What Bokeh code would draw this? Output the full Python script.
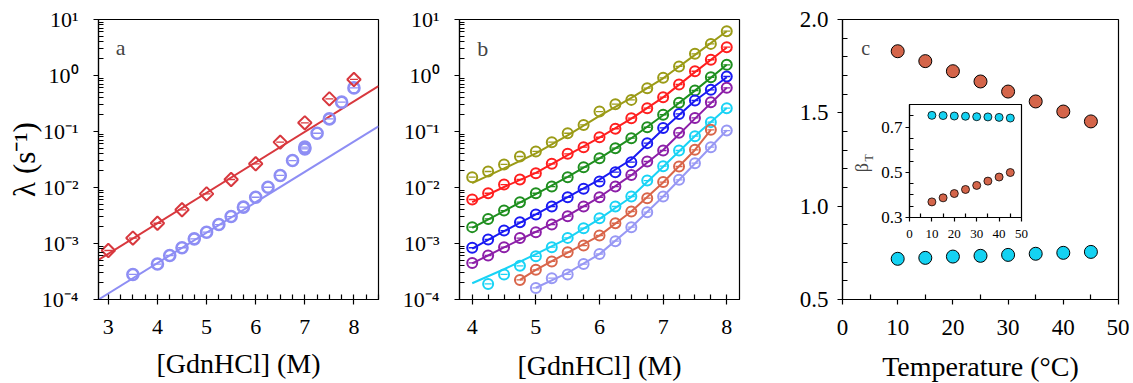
from bokeh.plotting import figure
from bokeh.layouts import row
from bokeh.models import (Range1d, FixedTicker, CustomJSTickFormatter, Label, LinearAxis,
                          SingleIntervalTicker, PrintfTickFormatter)
from bokeh.embed import file_html
from bokeh.resources import INLINE

FONT = "Liberation Serif"

# ---------------- Panel a data ----------------
a_red_x = [3.0, 3.5, 4.0, 4.5, 5.0, 5.5, 6.0, 6.5, 7.0, 7.5, 8.0]
a_red_y = [7.5e-4, 1.25e-3, 2.3e-3, 4.0e-3, 7.7e-3, 1.39e-2, 2.65e-2, 6.45e-2, 0.143, 0.383, 0.85]
a_blue_x = [3.5, 4.0, 4.25, 4.5, 4.75, 5.0, 5.25, 5.5, 5.75, 6.0, 6.25, 6.5, 6.75, 7.0, 7.0,
            7.25, 7.5, 7.75, 8.0]
a_blue_y = [2.8e-4, 4.3e-4, 6.1e-4, 8.4e-4, 1.21e-3, 1.59e-3, 2.18e-3, 3.03e-3, 4.46e-3, 6.7e-3,
            1.01e-2, 1.64e-2, 3.03e-2, 4.9e-2, 5.25e-2, 9.3e-2, 0.168, 0.334, 0.6]
a_fit_x = [2.8, 8.5]
a_fit_red = [5.1e-4, 0.645]
a_fit_blue = [1.0e-4, 0.124]

# ---------------- Panel b data ----------------
b_x = [4.0, 4.25, 4.5, 4.75, 5.0, 5.25, 5.5, 5.75, 6.0, 6.25, 6.5, 6.75, 7.0, 7.25, 7.5, 7.75, 8.0]
b_olive = [0.0153, 0.0193, 0.0258, 0.0358, 0.044, 0.0645, 0.093, 0.131, 0.227, 0.308, 0.367,
           0.594, 0.908, 1.45, 2.44, 3.67, 6.19]
b_red = [0.0061, 0.0079, 0.0113, 0.0139, 0.018, 0.0265, 0.040, 0.0525, 0.079, 0.112, 0.173,
         0.261, 0.41, 0.69, 1.19, 1.91, 3.21]
b_green = [0.00196, 0.00275, 0.00388, 0.00547, 0.0079, 0.0104, 0.0153, 0.0231, 0.0334, 0.0504,
           0.076, 0.119, 0.199, 0.325, 0.54, 0.93, 1.55]
b_blue = [0.00084, 0.00118, 0.0017, 0.0024, 0.0033, 0.00458, 0.0067, 0.00946, 0.0128, 0.0188,
          0.0283, 0.062, 0.116, 0.206, 0.358, 0.555, 0.96]
b_purple = [0.00045, 0.00061, 0.00086, 0.00125, 0.00159, 0.00218, 0.00308, 0.00458, 0.0067,
            0.0104, 0.0168, 0.0291, 0.0458, 0.0946, 0.175, 0.334, 0.603]
b_cyan_x = [4.25, 4.5, 4.75, 5.0, 5.25, 5.5, 5.75, 6.0, 6.25, 6.5, 6.75, 7.0, 7.25, 7.5, 7.75, 8.0]
b_cyan = [1.9e-4, 2.8e-4, 4.0e-4, 5.9e-4, 8.6e-4, 1.26e-3, 1.88e-3, 2.83e-3, 4.58e-3, 6.9e-3,
          1.33e-2, 2.4e-2, 4.58e-2, 8.26e-2, 0.147, 0.261]
b_coral_x = [4.75, 5.0, 5.25, 5.5, 5.75, 6.0, 6.25, 6.5, 6.75, 7.0, 7.25, 7.5, 7.75]
b_coral = [2.24e-4, 3.39e-4, 4.78e-4, 7.0e-4, 9.2e-4, 1.39e-3, 2.3e-3, 3.73e-3, 6.45e-3,
           1.25e-2, 2.37e-2, 4.71e-2, 0.107]
b_lav_x = [5.0, 5.25, 5.5, 5.75, 6.0, 6.25, 6.5, 6.75, 7.0, 7.25, 7.5, 7.75, 8.0]
b_lav = [1.61e-4, 2.4e-4, 2.8e-4, 4.3e-4, 6.5e-4, 1.1e-3, 1.96e-3, 3.63e-3, 6.9e-3, 1.37e-2,
         2.72e-2, 5.25e-2, 0.104]

# fitted curves
b_fit_x = [4.0, 4.5, 5.0, 5.5, 6.0, 6.5, 7.0, 7.5, 8.0]
b_olive_fit = [0.012, 0.0219, 0.0407, 0.0851, 0.19, 0.398, 0.891, 2.34, 6.17]
b_red_fit = [0.0055, 0.0102, 0.0182, 0.038, 0.0776, 0.17, 0.407, 1.15, 3.16]
b_green_fit = [0.0019, 0.0038, 0.00759, 0.0155, 0.0331, 0.0759, 0.195, 0.537, 1.55]
b_blue_fit = [8.1e-4, 1.66e-3, 3.3e-3, 6.76e-3, 0.0138, 0.0316, 0.11, 0.355, 0.93]
b_purple_fit = [4.4e-4, 8.5e-4, 1.62e-3, 3.16e-3, 6.76e-3, 0.0166, 0.0468, 0.17, 0.603]
b_cyan_fit = [1.95e-4, 3.47e-4, 6.46e-4, 1.23e-3, 2.75e-3, 6.76e-3, 0.0234, 0.0832, 0.263]
b_coral_fit_x = [4.75, 5.0, 5.5, 6.0, 6.5, 7.0, 7.5, 7.75]
b_coral_fit = [2.24e-4, 3.39e-4, 6.9e-4, 1.38e-3, 3.72e-3, 0.0123, 0.0468, 0.107]
b_lav_fit_x = [5.0, 5.5, 6.0, 6.5, 7.0, 7.5, 8.0]
b_lav_fit = [1.62e-4, 3.0e-4, 6.46e-4, 1.95e-3, 6.9e-3, 0.0269, 0.105]

# ---------------- Panel c data ----------------
c_temp = [10, 15, 20, 25, 30, 35, 40, 45]
c_m_orange = [1.830, 1.777, 1.723, 1.668, 1.614, 1.561, 1.507, 1.454]
c_m_cyan = [0.718, 0.723, 0.730, 0.734, 0.739, 0.745, 0.750, 0.755]
c_beta_cyan = [0.752, 0.751, 0.749, 0.748, 0.746, 0.745, 0.743, 0.740]
c_beta_orange = [0.369, 0.387, 0.406, 0.424, 0.442, 0.461, 0.479, 0.499]

log_major = [1e-4, 1e-3, 1e-2, 1e-1, 1e0, 1e1]
log_minor = [m * t for t in log_major[:-1] for m in range(2, 10)]

SUP = CustomJSTickFormatter(code="""
const e = Math.round(Math.log10(tick));
const s = {"-": "\u207b", "0": "\u2070", "1": "\u00b9", "2": "\u00b2", "3": "\u00b3",
           "4": "\u2074", "5": "\u2075", "6": "\u2076", "7": "\u2077", "8": "\u2078", "9": "\u2079"};
return "10" + String(e).split("").map(c => s[c]).join("");
""")

FRAME = 280
FRAME_C = 276
TOP = 19
BOTTOM = 40


def style_axis(ax, fs="22px", lfs="28px", tick=5):
    ax.axis_line_color = "black"
    ax.axis_line_width = 1.2
    ax.major_tick_out = tick
    ax.major_tick_in = 0
    ax.minor_tick_in = tick
    ax.minor_tick_out = 0
    ax.major_tick_line_color = "black"
    ax.minor_tick_line_color = "black"
    ax.major_tick_line_width = 1.2
    ax.minor_tick_line_width = 1.2
    ax.major_label_text_font = FONT
    ax.major_label_text_font_size = fs
    ax.major_label_text_color = "black"
    ax.axis_label_text_font = FONT
    ax.axis_label_text_font_style = "normal"
    ax.axis_label_text_font_size = lfs
    ax.axis_label_text_color = "black"


def base_fig(xr, yr, left, right, fw=FRAME, log=False):
    p = figure(frame_width=fw, frame_height=FRAME, x_range=xr, y_range=yr,
               y_axis_type="log" if log else "linear",
               output_backend="svg", toolbar_location=None,
               min_border_left=left, min_border_right=right,
               min_border_top=TOP, min_border_bottom=BOTTOM)
    p.grid.visible = False
    p.outline_line_color = "black"
    p.outline_line_width = 1.2
    p.background_fill_color = "white"
    p.border_fill_color = "white"
    return p


def open_marks(p, x, y, color, size=10, lw=2.0, dash=7):
    p.scatter(x, y, marker="circle", size=size, fill_color=None, line_color=color, line_width=lw)
    p.scatter(x, y, marker="dash", size=dash, line_color=color, line_width=1.3)


# ================= Panel a =================
pa = base_fig(Range1d(2.8, 8.5), Range1d(1e-4, 10), 98, 19, log=True)
RED_A = "#d8383e"
LAV_A = "#8e8ef4"
pa.line(a_fit_x, a_fit_red, line_color=RED_A, line_width=2)
pa.line(a_fit_x, a_fit_blue, line_color=LAV_A, line_width=2)
open_marks(pa, a_blue_x, a_blue_y, LAV_A, size=11, lw=2.6, dash=8)
pa.scatter(a_red_x, a_red_y, marker="square", angle=0.785398, size=9.5, fill_color=None,
           line_color=RED_A, line_width=2)
pa.scatter(a_red_x, a_red_y, marker="dash", size=8, line_color=RED_A, line_width=1.3)
pa.xaxis.ticker = SingleIntervalTicker(interval=1, num_minor_ticks=4)
pa.yaxis.ticker = FixedTicker(ticks=log_major, minor_ticks=log_minor)
pa.yaxis.formatter = SUP
style_axis(pa.xaxis[0])
style_axis(pa.yaxis[0], lfs="31px")
pa.xaxis.major_label_standoff = 15
pa.yaxis.major_label_standoff = 15
pa.xaxis.axis_label = "[GdnHCl] (M)"
pa.yaxis.axis_label = "\u03bb (s\u207b\u00b9)"
pa.xaxis.axis_label_standoff = 11
pa.yaxis.axis_label_standoff = -3
pa.add_layout(Label(x=3.15, y=3.16, text="a", text_font=FONT, text_font_size="22px",
                    text_baseline="alphabetic"))

# ================= Panel b =================
pb = base_fig(Range1d(3.8, 8.2), Range1d(1e-4, 10), 62, 20, log=True)
b_series = [
    (b_x, b_olive, b_fit_x, b_olive_fit, "#9b9b17"),
    (b_x, b_red, b_fit_x, b_red_fit, "#ff1f1f"),
    (b_x, b_green, b_fit_x, b_green_fit, "#1f8f1f"),
    (b_x, b_blue, b_fit_x, b_blue_fit, "#1a1af2"),
    (b_x, b_purple, b_fit_x, b_purple_fit, "#8c1fa8"),
    (b_cyan_x, b_cyan, b_fit_x, b_cyan_fit, "#19d3f5"),
    (b_coral_x, b_coral, b_coral_fit_x, b_coral_fit, "#d9664b"),
    (b_lav_x, b_lav, b_lav_fit_x, b_lav_fit, "#9898f4"),
]
for xs, ys, fx, fy, col in b_series:
    pb.line(fx, fy, line_color=col, line_width=2)
    open_marks(pb, xs, ys, col, size=10, lw=2.0, dash=7)
pb.xaxis.ticker = SingleIntervalTicker(interval=1, num_minor_ticks=4)
pb.yaxis.ticker = FixedTicker(ticks=log_major, minor_ticks=log_minor)
pb.yaxis.formatter = SUP
style_axis(pb.xaxis[0])
style_axis(pb.yaxis[0])
pb.xaxis.major_label_standoff = 15
pb.yaxis.major_label_standoff = 15
pb.xaxis.axis_label = "[GdnHCl] (M)"
pb.xaxis.axis_label_standoff = 13
pb.add_layout(Label(x=4.08, y=3.03, text="b", text_font=FONT, text_font_size="22px",
                    text_baseline="alphabetic"))

# ================= Panel c =================
pc = base_fig(Range1d(0, 50), Range1d(0.5, 2.0), 83, 11, fw=FRAME_C)
ORANGE_C = "#d4654a"
CYAN_C = "#14d2f2"

# inset placement (pixels inside panel c's frame)
IN_L, IN_R, IN_T, IN_B = 67, 179, 85, 198
ix0, ix1, iy0, iy1 = 0.0, 50.0, 0.3, 0.8
sx = (ix1 - ix0) / (IN_R - IN_L)
sy = (iy1 - iy0) / (IN_B - IN_T)
pc.extra_x_ranges = {"ix": Range1d(ix0 - IN_L * sx, ix1 + (FRAME_C - IN_R) * sx)}
pc.extra_y_ranges = {"iy": Range1d(iy0 - (FRAME - IN_B) * sy, iy1 + IN_T * sy)}

pc.scatter(c_temp, c_m_orange, marker="circle", size=13, fill_color=ORANGE_C,
           line_color="black", line_width=1)
pc.scatter(c_temp, c_m_cyan, marker="circle", size=13, fill_color=CYAN_C,
           line_color="black", line_width=1)

pc.quad(left=[ix0], right=[ix1], bottom=[iy0], top=[iy1], fill_color="white",
        line_color="black", line_width=1.2, x_range_name="ix", y_range_name="iy")
pc.scatter(c_temp, c_beta_cyan, marker="circle", size=8, fill_color=CYAN_C,
           line_color="black", line_width=0.8, x_range_name="ix", y_range_name="iy")
pc.scatter(c_temp, c_beta_orange, marker="circle", size=8, fill_color=ORANGE_C,
           line_color="black", line_width=0.8, x_range_name="ix", y_range_name="iy")

pc.xaxis.ticker = FixedTicker(ticks=[0, 10, 20, 30, 40, 50], minor_ticks=[5, 15, 25, 35, 45])
pc.yaxis.ticker = FixedTicker(ticks=[0.5, 1.0, 1.5, 2.0],
                              minor_ticks=[0.6, 0.7, 0.8, 0.9, 1.1, 1.2, 1.3, 1.4, 1.6, 1.7, 1.8, 1.9])
pc.yaxis.formatter = PrintfTickFormatter(format="%.1f")
style_axis(pc.xaxis[0], fs="23px")
style_axis(pc.yaxis[0], fs="23px")
pc.xaxis.major_label_standoff = 15
pc.yaxis.major_label_standoff = 9
pc.xaxis.axis_label = "Temperature (\u00b0C)"
pc.xaxis.axis_label_standoff = 13

# inset axes
iax = LinearAxis(x_range_name="ix", y_range_name="iy", fixed_location=iy0, bounds=(ix0, ix1),
                 ticker=FixedTicker(ticks=[0, 10, 20, 30, 40, 50], minor_ticks=[5, 15, 25, 35, 45]))
style_axis(iax, fs="13px", tick=4)
iax.major_label_standoff = 8
pc.add_layout(iax, "below")
iay = LinearAxis(x_range_name="ix", y_range_name="iy", fixed_location=ix0, bounds=(iy0, iy1),
                 ticker=FixedTicker(ticks=[0.3, 0.5, 0.7],
                                    minor_ticks=[0.35, 0.4, 0.45, 0.55, 0.6, 0.65, 0.75, 0.8]),
                 formatter=PrintfTickFormatter(format="%.1f"))
style_axis(iay, fs="17px", tick=4)
iay.major_label_standoff = 3
pc.add_layout(iay, "left")

# y-axis title of panel c (with subscript) and inset title
pc.add_layout(Label(x=-11.1, y=0.94, text="m", angle=1.5708, text_font=FONT,
                    text_font_size="29px", text_baseline="alphabetic", text_align="left"))
pc.add_layout(Label(x=-10.1, y=1.06, text="\u2021-N", angle=1.5708, text_font=FONT,
                    text_font_size="17px", text_baseline="alphabetic", text_align="left"))
pc.add_layout(Label(x=-11.1, y=1.2, text="value", angle=1.5708, text_font=FONT,
                    text_font_size="29px", text_baseline="alphabetic", text_align="left"))
pc.add_layout(Label(x=-21.0, y=0.5, text="\u03b2", angle=1.5708, text_font=FONT,
                    text_font_size="18px", text_baseline="alphabetic", text_align="left",
                    x_range_name="ix", y_range_name="iy"))
pc.add_layout(Label(x=-18.3, y=0.548, text="T", angle=1.5708, text_font=FONT,
                    text_font_size="12px", text_baseline="alphabetic", text_align="left",
                    x_range_name="ix", y_range_name="iy"))
pc.add_layout(Label(x=3.4, y=1.85, text="c", text_font=FONT, text_font_size="20px",
                    text_baseline="alphabetic"))

layout = row(pa, pb, pc)
open("out.html", "w").write(file_html(layout, INLINE))
